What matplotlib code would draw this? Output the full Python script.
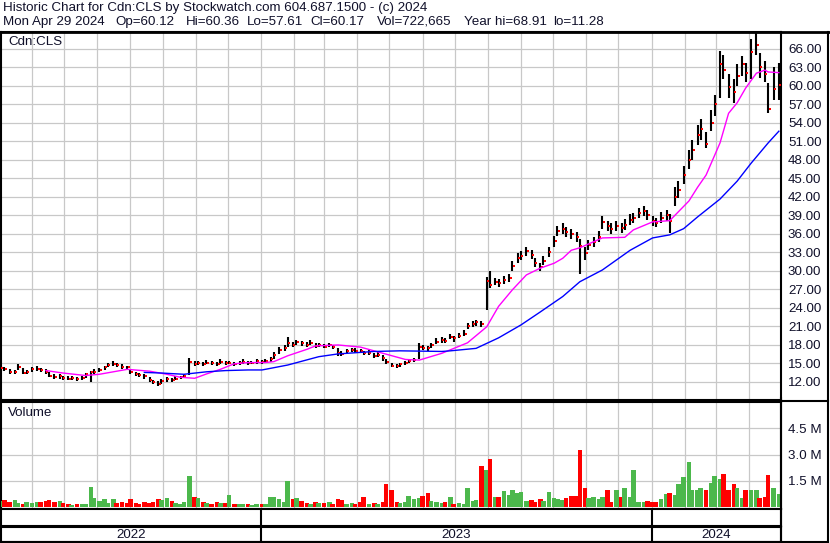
import numpy as np
import pandas as pd
import matplotlib
matplotlib.use("Agg")
import matplotlib.pyplot as plt
import matplotlib.dates as mdates
from matplotlib.lines import Line2D

plt.rcParams['font.family'] = ['Liberation Sans', 'DejaVu Sans']

# ---------------- data ----------------
title_line1 = "Historic Chart for Cdn:CLS by Stockwatch.com 604.687.1500 - (c) 2024"
title_fields = ["Mon Apr 29 2024", "Op=60.12", "Hi=60.36", "Lo=57.61", "Cl=60.17",
                "Vol=722,665", "Year hi=68.91", "lo=11.28"]
symbol = "Cdn:CLS"

# one bar every third trading day, 2022-05-03 .. 2024-04-29
bar_dates = pd.bdate_range("2022-05-03", "2024-04-29")[::3]

close = [14.2, 14.0, 13.5, 13.6, 14.4, 13.4, 13.6, 14.0, 14.1, 13.9,
         13.6, 13.0, 12.8, 12.9, 12.6, 12.5, 12.6, 12.4, 12.6, 13.2,
         13.5, 13.6, 13.9, 14.3, 14.7, 14.9, 14.7, 14.4, 14.3, 13.6,
         13.2, 13.1, 12.9, 12.3, 11.9, 11.7, 12.1, 12.4, 12.3, 12.5,
         12.7, 12.9, 15.2, 14.9, 15.0, 14.8, 15.1, 15.0, 14.9, 15.2,
         15.0, 15.1, 14.9, 15.0, 15.2, 15.0, 15.1, 15.3, 15.2, 15.4,
         15.6, 16.4, 17.2, 17.5, 18.3, 18.0, 18.4, 18.2, 18.0, 18.3,
         17.8, 17.9, 17.7, 17.9, 17.6, 16.7, 16.5, 16.9, 17.1, 17.0,
         16.9, 16.6, 16.7, 16.2, 16.4, 15.8, 15.2, 14.6, 14.5, 14.8,
         15.0, 15.4, 15.5, 17.6, 17.5, 17.4, 17.9, 18.5, 18.7, 18.6,
         19.3, 19.0, 19.4, 19.8, 21.0, 21.4, 21.6, 21.3, 28.3, 27.6,
         28.2, 28.0, 28.5, 28.8, 30.8, 32.0, 32.4, 33.2, 32.5, 31.2,
         30.6, 31.5, 33.0, 34.8, 36.4, 36.8, 36.2, 36.0, 35.4, 34.0,
         32.8, 34.2, 34.6, 35.5, 37.9, 37.3, 36.8, 37.2, 36.9, 37.4,
         38.2, 38.5, 39.3, 39.6, 39.0, 38.0, 37.8, 38.6, 39.0, 38.0,
         42.0, 43.0, 45.5, 48.0, 49.5, 52.0, 53.0, 50.5, 54.0, 57.0,
         63.5, 62.5, 59.8, 59.0, 61.5, 63.5, 62.0, 65.5, 66.5, 63.0,
         61.8, 56.2, 59.5, 60.17]

high = [14.6, 14.4, 14.0, 13.9, 14.8, 14.2, 13.9, 14.3, 14.5, 14.2,
        14.0, 13.6, 13.2, 13.3, 13.0, 12.9, 12.9, 12.8, 13.0, 13.4,
        13.8, 14.0, 14.2, 14.6, 15.1, 15.3, 15.0, 14.8, 14.6, 14.1,
        13.6, 13.4, 13.2, 12.8, 12.3, 12.1, 12.4, 12.7, 12.6, 12.9,
        13.0, 13.2, 15.9, 15.4, 15.3, 15.2, 15.5, 15.3, 15.2, 15.6,
        15.3, 15.4, 15.2, 15.4, 15.6, 15.3, 15.4, 15.6, 15.5, 15.7,
        16.0, 16.8, 17.6, 17.9, 19.2, 18.5, 18.8, 18.6, 18.4, 18.7,
        18.2, 18.2, 18.1, 18.3, 18.0, 17.4, 16.9, 17.3, 17.5, 17.4,
        17.3, 17.0, 17.1, 16.7, 16.8, 16.3, 15.6, 15.0, 14.8, 15.1,
        15.4, 15.7, 15.9, 18.2, 17.9, 17.8, 18.3, 19.0, 19.3, 19.0,
        19.8, 19.4, 19.9, 20.4, 21.5, 21.9, 22.0, 21.8, 28.9, 30.0,
        28.8, 28.7, 29.2, 29.5, 31.6, 32.8, 33.2, 33.9, 33.3, 32.1,
        31.3, 32.3, 33.8, 35.6, 37.3, 37.8, 37.1, 36.8, 36.3, 35.2,
        33.9, 35.0, 35.4, 36.4, 38.8, 38.1, 37.7, 38.0, 37.7, 38.3,
        39.1, 39.4, 40.2, 40.4, 39.9, 38.9, 38.6, 39.5, 39.9, 39.2,
        43.5, 44.5, 47.0, 49.6, 51.2, 53.6, 54.5, 52.5, 56.0, 58.5,
        65.6, 65.0, 61.8, 61.0, 63.5, 64.8, 63.6, 67.5, 68.91, 65.2,
        64.0, 60.4, 63.0, 63.6]

low = [13.8, 13.7, 13.2, 13.2, 13.9, 13.2, 13.3, 13.6, 13.8, 13.6,
       13.3, 12.7, 12.4, 12.5, 12.3, 12.2, 12.3, 12.1, 12.3, 12.6,
       11.9, 13.3, 13.5, 13.9, 14.3, 14.6, 14.4, 14.1, 13.9, 13.3,
       12.9, 12.8, 12.5, 12.0, 11.6, 11.28, 11.7, 12.0, 12.0, 12.2,
       12.4, 12.6, 13.1, 14.6, 14.7, 14.5, 14.8, 14.7, 14.6, 14.9,
       14.7, 14.8, 14.6, 14.7, 14.9, 14.7, 14.8, 14.9, 14.9, 15.0,
       15.2, 15.7, 16.5, 17.0, 17.6, 17.7, 18.0, 17.8, 17.7, 17.9,
       17.5, 17.6, 17.4, 17.6, 17.3, 16.2, 16.2, 16.6, 16.8, 16.7,
       16.6, 16.3, 16.4, 15.9, 16.0, 15.4, 14.8, 14.3, 14.2, 14.4,
       14.7, 15.0, 15.2, 15.6, 17.1, 17.0, 17.5, 18.1, 18.3, 18.2,
       18.9, 18.5, 19.0, 19.4, 20.5, 20.9, 21.1, 20.9, 23.6, 27.2,
       27.6, 27.4, 27.9, 28.2, 30.0, 31.2, 31.7, 32.4, 31.9, 30.6,
       30.0, 30.9, 32.2, 33.9, 35.6, 36.0, 35.5, 35.2, 34.6, 29.5,
       31.8, 33.4, 33.8, 34.7, 36.8, 36.5, 36.0, 36.4, 36.1, 36.6,
       37.4, 37.7, 38.5, 38.8, 38.2, 37.3, 37.1, 37.8, 38.1, 36.1,
       40.5, 41.8, 44.0, 46.5, 48.0, 50.3, 51.2, 49.8, 52.6, 55.0,
       58.0, 61.0, 58.0, 57.2, 60.0, 61.5, 60.5, 61.0, 65.0, 61.2,
       60.5, 55.5, 57.6, 57.61]

# volume, millions of shares
volume = [0.35, 0.40, 0.30, 0.38, 0.25, 0.20, 0.30, 0.25, 0.30, 0.28,
          0.32, 0.40, 0.30, 0.35, 0.25, 0.15, 0.12, 0.18, 0.15, 0.20,
          1.16, 0.50, 0.35, 0.45, 0.25, 0.45, 0.22, 0.30, 0.25, 0.45,
          0.25, 0.20, 0.30, 0.22, 0.28, 0.45, 0.40, 0.50, 0.35, 0.25,
          0.20, 0.30, 1.77, 0.55, 0.50, 0.30, 0.25, 0.20, 0.30, 0.25,
          0.22, 0.70, 0.20, 0.15, 0.18, 0.20, 0.12, 0.15, 0.20, 0.15,
          0.55, 0.60, 0.45, 0.30, 1.50, 0.45, 0.50, 0.35, 0.25, 0.20,
          0.30, 0.25, 0.22, 0.30, 0.20, 0.45, 0.40, 0.20, 0.25, 0.20,
          0.30, 0.55, 0.20, 0.25, 0.20, 0.30, 1.30, 1.00, 0.30, 0.25,
          0.30, 0.65, 0.45, 0.50, 0.65, 0.80, 0.35, 0.30, 0.25, 0.30,
          0.60, 0.20, 0.25, 0.20, 1.10, 0.35, 0.40, 2.35, 2.10, 2.75,
          0.60, 0.55, 0.90, 0.70, 0.95, 0.80, 0.85, 0.35, 0.40, 0.30,
          0.45, 0.35, 0.85, 0.50, 0.45, 0.40, 0.50, 0.65, 0.65, 3.25,
          1.10, 0.50, 0.60, 0.45, 0.55, 1.00, 0.30, 1.00, 0.55, 1.10,
          0.60, 2.10, 0.30, 0.30, 0.35, 0.30, 0.30, 0.45, 0.75, 0.80,
          0.70, 1.30, 1.70, 2.55, 0.95, 1.00, 1.10, 1.00, 1.40, 1.75,
          1.60, 1.90, 1.00, 1.30, 1.10, 0.50, 1.00, 1.00, 1.00, 0.50,
          0.55, 1.85, 1.10, 0.75]

# moving averages (bar index -> value)
ma_fast_idx = [10, 14, 19, 22, 25, 28, 33, 37, 40, 43, 46, 49, 52, 55, 59, 61,
               64, 68, 70, 75, 80, 85, 90, 93, 98, 104, 108, 111, 114, 117, 120,
               123, 125, 127, 129, 134, 139, 141, 145, 149, 153, 155, 157, 160,
               162, 164, 166, 168, 170, 171, 173]
ma_fast = [13.8, 13.4, 13.0, 13.2, 13.6, 14.0, 13.7, 13.2, 12.7, 12.55, 13.25,
           14.0, 14.9, 15.1, 15.1, 15.25, 16.2, 17.25, 17.8, 17.95, 17.6, 16.6,
           15.6, 15.5, 16.6, 18.3, 20.9, 24.2, 26.9, 29.3, 30.4, 31.2, 32.0,
           33.3, 33.7, 35.3, 35.4, 36.6, 37.9, 38.1, 41.3, 43.5, 45.5, 50.7,
           55.5, 57.2, 59.6, 62.0, 62.5, 62.2, 62.1]

ma_slow_idx = [32, 36, 41, 46, 50, 55, 58, 64, 71, 75, 83, 89, 98, 100, 106, 111,
               116, 120, 125, 129, 134, 140, 145, 149, 152, 155, 160, 164, 167,
               171, 173]
ma_slow = [13.5, 13.4, 13.2, 13.6, 13.8, 13.9, 13.9, 14.7, 16.05, 16.5, 16.9,
           17.0, 16.9, 17.0, 17.4, 19.1, 21.2, 23.3, 25.8, 28.2, 30.1, 33.3,
           35.3, 35.8, 36.8, 38.7, 41.6, 44.5, 47.4, 50.7, 52.6]

price_ticks = list(range(12, 67, 3))
volume_ticks = [1.5, 3.0, 4.5]
years = [2022, 2023, 2024]

# ---------------- layout ----------------
W, H = 830, 543
fig = plt.figure(figsize=(W / 100, H / 100), dpi=100)
fig.patch.set_facecolor("white")


def rect(x0, y0, x1, y1):
    return [x0 / W, 1 - y1 / H, (x1 - x0) / W, (y1 - y0) / H]


GRID = "#c8c8c8"
RED = "#ff0000"
GREEN = "#4cb84c"
FS = 9.6
LW_FRAME = 1.5
TXT = "#10102a"

x_start = pd.Timestamp("2022-05-03")
x_end = pd.Timestamp("2024-05-01")

ax_p = fig.add_axes(rect(1, 32, 781, 400))
ax_v = fig.add_axes(rect(1, 402, 781, 509), sharex=ax_p)
ax_s1 = fig.add_axes(rect(1, 509, 781, 526), sharex=ax_p)
ax_s2 = fig.add_axes(rect(1, 527, 781, 542), sharex=ax_p)

ax_p.set_xlim(x_start, x_end)

for ax in (ax_p, ax_v, ax_s1, ax_s2):
    for s in ax.spines.values():
        s.set_linewidth(LW_FRAME)
        s.set_color("black")
    ax.set_facecolor("white")

ax_p.xaxis.set_major_locator(mdates.MonthLocator())

# price panel
bd = mdates.date2num(bar_dates)
ax_p.vlines(bd, low, high, color="black", lw=1.5, zorder=3)
ax_p.scatter(bd + 1.3, close, marker="s", s=4.0, color=RED, linewidths=0, zorder=4)

ax_p.plot(bd[ma_fast_idx], ma_fast, color="#ff00ff", lw=1.0, zorder=5)
ax_p.plot(bd[ma_slow_idx], ma_slow, color="#0000ff", lw=1.0, zorder=5)

ax_p.set_ylim(9.03, 68.68)
ax_p.set_yticks(price_ticks)
ax_p.set_yticklabels([f"{v:.2f}" for v in price_ticks])
ax_p.yaxis.tick_right()
ax_p.tick_params(axis="y", length=0, pad=5, labelsize=FS, labelcolor=TXT)
ax_p.tick_params(axis="x", length=0, labelbottom=False)
ax_p.grid(True, color=GRID, lw=0.9, zorder=0)
ax_p.set_axisbelow(True)
ax_p.text(0.009, 0.972, symbol, transform=ax_p.transAxes, fontsize=FS,
          va="center", ha="left", color=TXT)

# volume panel
closes = np.array(close)
up = np.r_[True, closes[1:] >= closes[:-1]]
vcolors = [GREEN if u else RED for u in up]
ax_v.bar(bd, volume, width=4.3, color=vcolors, linewidth=0, align="center", zorder=3)
ax_v.set_ylim(-0.11, 6.0)
ax_v.set_yticks(volume_ticks)
ax_v.set_yticklabels([f"{v:.1f} M" for v in volume_ticks])
ax_v.yaxis.tick_right()
ax_v.tick_params(axis="y", length=0, pad=5, labelsize=FS, labelcolor=TXT)
ax_v.tick_params(axis="x", length=0, labelbottom=False)
ax_v.grid(True, color=GRID, lw=0.9, zorder=0)
ax_v.set_axisbelow(True)
ax_v.text(0.009, 0.897, "Volume", transform=ax_v.transAxes, fontsize=FS,
          va="center", ha="left", color=TXT)

# date strips
for ax in (ax_s1, ax_s2):
    ax.set_yticks([])
    ax.tick_params(axis="x", length=0, labelbottom=False)
    ax.set_ylim(0, 1)
    for y in years[1:]:
        ax.axvline(pd.Timestamp(f"{y}-01-01"), color="black", lw=LW_FRAME)
    ax.grid(False)

for y in years:
    a = max(pd.Timestamp(f"{y}-01-01"), x_start)
    b = min(pd.Timestamp(f"{y + 1}-01-01"), x_end)
    mid = a + (b - a) / 2
    ax_s2.text(mid, 0.45, str(y), ha="center", va="center", fontsize=FS, color=TXT)

# header text
fig.text(3 / W, 1 - 8.0 / H, title_line1, fontsize=FS, va="center", ha="left", color=TXT)
field_x = [3, 115, 185.5, 246.5, 310, 376.5, 464, 553]
for fx, s in zip(field_x, title_fields):
    fig.text(fx / W, 1 - 22.0 / H, s, fontsize=FS, va="center", ha="left", color=TXT)


# outer frame pieces
def fig_line(x0, y0, x1, y1, lw=LW_FRAME):
    fig.add_artist(Line2D([x0 / W, x1 / W], [1 - y0 / H, 1 - y1 / H],
                          color="black", lw=lw, transform=fig.transFigure))


fig_line(0, 31.5, W, 31.5, lw=2.0)
fig_line(781, 398, 781, 542)
fig_line(828, 31.5, 828, 542)
fig_line(1, 401, 828, 401)
fig_line(1, 542, 828, 542)

fig.savefig("out.png", dpi=100, facecolor="white")
